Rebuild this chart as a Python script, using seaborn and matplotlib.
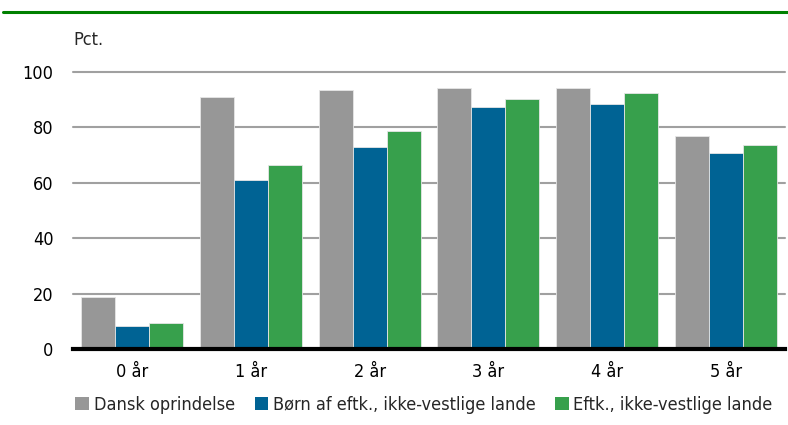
import matplotlib
matplotlib.use("Agg")
import matplotlib.pyplot as plt
import matplotlib.patches as mpatches
from matplotlib.lines import Line2D
import seaborn as sns
import pandas as pd

# Data
categories = ["0 år", "1 år", "2 år", "3 år", "4 år", "5 år"]
series_names = ["Dansk oprindelse", "Børn af eftk., ikke-vestlige lande", "Eftk., ikke-vestlige lande"]
dansk = [18.6, 91.0, 93.4, 94.1, 94.3, 76.8]
boern = [8.2, 61.1, 73.1, 87.2, 88.6, 70.8]
eftk = [9.4, 66.5, 78.8, 90.3, 92.4, 73.8]
yticks = [0, 20, 40, 60, 80, 100]
colors = ["#979797", "#006394", "#37a04c"]

rows = []
for name, vals in zip(series_names, [dansk, boern, eftk]):
    for cat, v in zip(categories, vals):
        rows.append({"Alder": cat, "Gruppe": name, "Pct": v})
df = pd.DataFrame(rows)

sns.set_theme(style="white")
plt.rcParams["font.family"] = ["DejaVu Sans"]
plt.rcParams["font.stretch"] = "condensed"

fig = plt.figure(figsize=(7.88, 4.25), dpi=100)
ax = fig.add_axes([73 / 788, 1 - 349 / 425, (785 - 73) / 788, (349 - 72) / 425])

sns.barplot(data=df, x="Alder", y="Pct", hue="Gruppe", hue_order=series_names,
            order=categories, palette=colors, width=0.86, saturation=1,
            edgecolor="#e6e6e6", linewidth=0.6, errorbar=None, legend=False, ax=ax)

ax.set_ylim(0, 100)
ax.set_xlim(-0.5, len(categories) - 0.5)
ax.set_yticks(yticks)
ax.set_yticklabels([str(t) for t in yticks])
ax.set_xlabel("")
ax.set_ylabel("")
for y in yticks[1:]:
    ax.axhline(y, color="#a0a0a0", lw=1.5, zorder=0, clip_on=False)
ax.set_axisbelow(True)
for s in ["top", "right", "left"]:
    ax.spines[s].set_visible(False)
ax.spines["bottom"].set_color("black")
ax.spines["bottom"].set_linewidth(3)
ax.tick_params(axis="y", length=0, pad=14, labelsize=13, colors="black")
ax.tick_params(axis="x", length=0, pad=10, labelsize=13, colors="black")

fig.text(73 / 788, 1 - 40 / 425, "Pct.", fontsize=13, ha="left", va="center")

# Green rule along the top
fig.add_artist(Line2D([3 / 788, 1], [1 - 12 / 425] * 2, color="#008000", lw=2.2))

handles = [mpatches.Patch(facecolor=c, edgecolor="none") for c in colors]
fig.legend(handles, series_names, loc="center", bbox_to_anchor=(424 / 788, 1 - 405 / 425),
           ncol=3, frameon=False, fontsize=13, handlelength=0.75, handleheight=0.75,
           handletextpad=0.25, columnspacing=1.1, borderaxespad=0)

fig.savefig("out.png", dpi=100)
